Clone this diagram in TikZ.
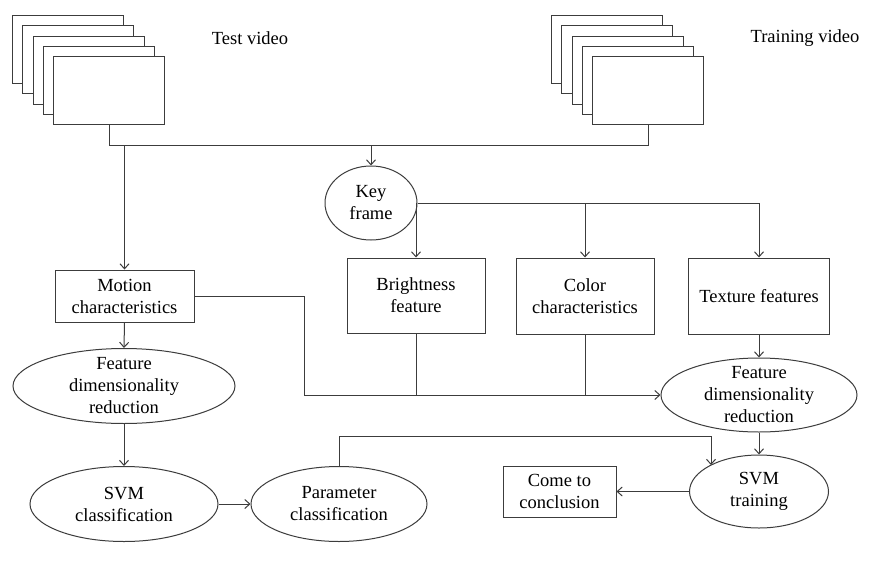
\documentclass[tikz,border=0pt]{standalone}
\usepackage{fontspec}
\setmainfont{Liberation Serif}
\usetikzlibrary{shapes.geometric,arrows.meta,calc}
\definecolor{lc}{RGB}{60,60,60}
\newcommand{\figfont}{\fontsize{18.5}{22}\selectfont}
\begin{document}
\begin{tikzpicture}[x=1pt,y=-1pt,
 ln/.style={draw=lc, line width=1pt},
 arr/.style={ln, -{Straight Barb[length=5pt,width=9pt]}},
 box/.style={draw=lc, line width=1pt, rectangle, inner sep=0pt, align=center, font=\figfont, fill=white},
 ell/.style={draw=lc, line width=1pt, ellipse, inner xsep=0pt, inner ysep=-8pt, align=center, font=\figfont, fill=white},
 frm/.style={draw=lc, line width=1pt, fill=white, minimum width=111pt, minimum height=68pt, inner sep=0pt, anchor=north west},
]
\useasboundingbox (0,0) rectangle (875,562);
\fill[white] (0,0) rectangle (875,562);
% frames
\foreach \i in {0,...,4} {
  \node[frm] (tf\i) at ({12+10.3*\i},{15+10.3*\i}) {};
  \node[frm] (trf\i) at ({551+10.3*\i},{15+10.3*\i}) {};
}
\node[font=\figfont] (tvl) at (250,38) {Test video};
\node[font=\figfont] (trl) at (805,38) {Training video};
% nodes
\node[ell, minimum width=92pt, minimum height=74pt] (key) at (371,203) {Key\\frame};
\node[box, minimum width=139pt, minimum height=52pt] (motion) at (124.5,296) {Motion\\characteristics};
\node[box, minimum width=138pt, minimum height=75pt] (bright) at (416,295.5) {Brightness\\feature};
\node[box, minimum width=138pt, minimum height=76pt] (color) at (585,296) {Color\\characteristics};
\node[box, minimum width=141pt, minimum height=76pt] (texture) at (759,296) {Texture features};
\node[ell, minimum width=222pt, minimum height=75pt] (fdr1) at (124,386) {Feature\\dimensionality\\reduction};
\node[ell, minimum width=188pt, minimum height=75pt] (svmc) at (124,504) {SVM\\classification};
\node[ell, minimum width=176pt, minimum height=75pt] (param) at (339,504) {Parameter\\classification};
\node[ell, minimum width=196pt, minimum height=74pt] (fdr2) at (759,395) {Feature\\dimensionality\\reduction};
\node[ell, minimum width=139pt, minimum height=73pt] (svmt) at (759,491.5) {SVM\\training};
\node[box, minimum width=113pt, minimum height=51pt] (concl) at (559.5,491.5) {Come to\\conclusion};
% connectors
\coordinate (j) at (0,145);
\draw[ln] (tf4.south) -- (tf4.south |- j) -- (trf4.south |- j) -- (trf4.south);
\draw[arr] (key.north |- j) -- (key.north);
\draw[arr] (motion.north |- j) -- (motion.north);
\draw[arr] (key.east) -| (texture.north);
\draw[arr] (key.east -| bright.north) -- (bright.north);
\draw[arr] (key.east -| color.north) -- (color.north);
\coordinate (mj) at (304,395);
\draw[arr] (motion.east) -| (mj) -- (fdr2.west);
\draw[ln] (bright.south) -- (bright.south |- mj);
\draw[ln] (color.south) -- (color.south |- mj);
\draw[arr] (motion.south) -- (fdr1.north);
\draw[arr] (fdr1.south) -- (svmc.north);
\draw[arr] (svmc.east) -- (param.west);
\draw[arr] (texture.south) -- (fdr2.north);
\draw[arr] (fdr2.south) -- (svmt.north);
\coordinate (pj) at (711,436);
\coordinate (st) at (711,465);
\draw[arr] (param.north) |- (pj) -- (st);
\draw[arr] (svmt.west) -- (concl.east);
\end{tikzpicture}
\end{document}
